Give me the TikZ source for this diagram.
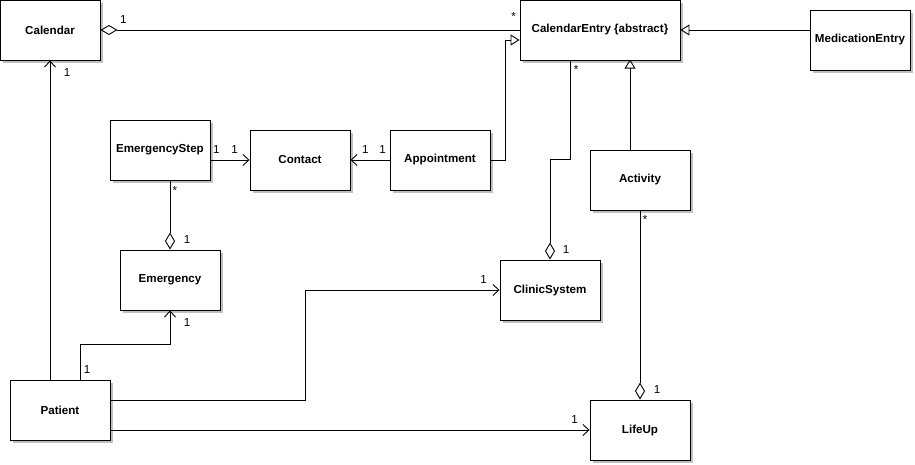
\documentclass[tikz,border=0pt]{standalone}
\usepackage{fontspec}
\setmainfont{Liberation Sans}
\usetikzlibrary{arrows.meta,shadows}

\begin{document}
\begin{tikzpicture}[x=1pt, y=-1pt, line width=0.9pt,
   class/.style={rectangle, draw, fill=white, minimum width=100, minimum height=60,
      font=\fontsize{11.6}{14}\selectfont\bfseries,
      drop shadow={shadow xshift=3pt, shadow yshift=-3pt, fill=black!25, opacity=1}},
   mult/.style={font=\fontsize{11.6}{14}\selectfont, inner sep=0pt},
   assoc/.style={-{Straight Barb[length=6pt, width=11pt]}},
   agg/.style={{Diamond[open, length=17pt, width=10pt]}-},
   inh/.style={-{Triangle[open, length=9pt, width=11pt]}}]
   \useasboundingbox (0,0) rectangle (915,465);
   \node (cal) at (50,30) [class] {Calendar};
   \node (ce) at (600,30) [class, minimum width=160] {CalendarEntry \{abstract\}};
   \node (med) at (860,40) [class] {MedicationEntry};
   \node (es) at (160,150) [class] {EmergencyStep};
   \node (ct) at (300,160) [class] {Contact};
   \node (appt) at (440,160) [class] {Appointment};
   \node (act) at (640,180) [class] {Activity};
   \node (cs) at (550,290) [class] {ClinicSystem};
   \node (emg) at (170,280) [class] {Emergency};
   \node (pat) at (60,410) [class] {Patient};
   \node (lu) at (640,430) [class] {LifeUp};
   \draw [agg] (cal.east) -- node[mult, at start, xshift=23, yshift=10]{1} node[mult, at end, xshift=-6, yshift=13]{*} (ce.west);
   \draw [assoc] ([xshift=-10]pat.north) -- node[mult, at end, xshift=17, yshift=-12]{1} (cal.south);
   \draw [assoc] (es.east |- ct.west) -- node[mult, at start, xshift=6, yshift=10]{1} node[mult, at end, xshift=-15, yshift=10]{1} (ct.west);
   \draw [assoc] (appt.west) -- node[mult, at start, xshift=-7, yshift=10]{1} node[mult, at end, xshift=15, yshift=10]{1} (ct.east);
   \draw [inh] (appt.east) -- ++(15,0) |- ([yshift=-10]ce.west);
   \draw [agg] (cs.north) -- node[mult, at start, xshift=16, yshift=10]{1} ++(0,-100) -| node[mult, at end, xshift=6, yshift=-9]{*} ([xshift=-30]ce.south);
   \draw [inh] ([xshift=-10]act.north) -- ++(0,-90);
   \draw [inh] ([yshift=10]med.west) -- (ce.east);
   \draw [agg] (lu.north) -- node[mult, at start, xshift=17, yshift=10]{1} node[mult, at end, xshift=5, yshift=-9]{*} (act.south);
   \draw [agg] (emg.north) -- node[mult, at start, xshift=17, yshift=10]{1} node[mult, at end, xshift=5, yshift=-10]{*} (emg.north |- es.south);
   \draw [assoc] ([xshift=20]pat.north) -- node[mult, at start, xshift=7, yshift=10]{1} ++(0,-35) -| node[mult, at end, xshift=17, yshift=-12]{1} (emg.south);
   \draw [assoc] ([yshift=10]pat.east) -- ++(195,0) |- node[mult, at end, xshift=-16, yshift=10]{1} (cs.west);
   \draw [assoc] ([yshift=-20]pat.east) -- node[mult, at end, xshift=-15, yshift=10]{1} (lu.west);
\end{tikzpicture}
\end{document}
